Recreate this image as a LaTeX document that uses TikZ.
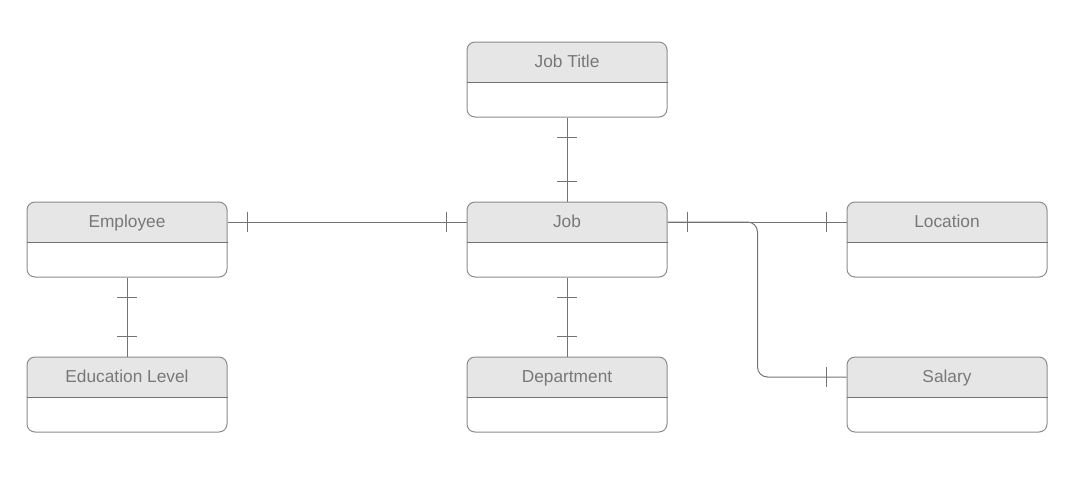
\documentclass[tikz,border=0pt]{standalone}
\usepackage{fontspec}
\setmainfont{Liberation Sans}
\usetikzlibrary{decorations.markings}
\definecolor{linegray}{RGB}{115,115,115}
\definecolor{boxgray}{RGB}{140,140,140}
\definecolor{headfill}{RGB}{230,230,230}
\definecolor{textgray}{RGB}{120,120,120}
\begin{document}
\begin{tikzpicture}[x=1pt,y=-1pt,line width=1pt,
    box/.style={draw=boxgray,rounded corners=8pt,minimum width=200pt,minimum height=75pt,inner sep=0pt},
    head/.style={minimum width=200pt,minimum height=40pt,inner sep=0pt,text height=12.4pt,text depth=1.8pt,
      text=textgray,font=\fontsize{17.3}{20}\selectfont},
    rel/.style={draw=linegray,postaction={decorate,decoration={markings,
      mark=at position 20pt with {\draw[linegray,line width=1pt] (0,-10pt) -- (0,10pt);},
      mark=at position -20pt with {\draw[linegray,line width=1pt] (0,-10pt) -- (0,10pt);}}}}]
  \useasboundingbox (0,0) rectangle (1074,480);
  \foreach \n/\x/\y/\t in {jobtitle/567/42/Job Title, employee/127/202/Employee, job/567/202/Job,
      location/947/202/Location, edulevel/127/357/Education Level,
      department/567/357/Department, salary/947/357/Salary} {
    \begin{scope}
      \clip[rounded corners=8pt] (\x-100,\y) rectangle (\x+100,\y+75);
      \fill[headfill] (\x-100,\y) rectangle (\x+100,\y+40);
    \end{scope}
    \node[box] (\n-box) at (\x,\y+37.5) {};
    \node[head] (\n) at (\x,\y+20) {\t};
    \draw[linegray] (\n.south west) -- (\n.south east);
  }
  % relations
  \draw[rel] (jobtitle-box.south) -- (job.north);
  \draw[rel] (employee.east) -- (job.west);
  \draw[rel] (employee-box.south) -- (edulevel.north);
  \draw[rel] (job-box.south) -- (department.north);
  \draw[rel] (job.east) -- (location.west);
  \draw[rel,rounded corners=10pt] (job.east) -- ++(90,0) |- (salary.west);
\end{tikzpicture}
\end{document}
